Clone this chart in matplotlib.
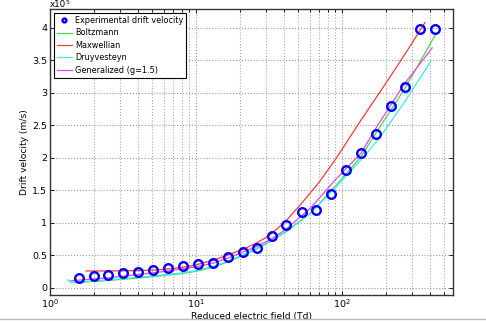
import matplotlib
matplotlib.use("Agg")
import matplotlib.pyplot as plt
from matplotlib.ticker import FuncFormatter, LogLocator, NullFormatter, MultipleLocator
from matplotlib.lines import Line2D

# Experimental data (x in Td, y in 1e5 m/s)
exp_x = [1.58, 2.0, 2.5, 3.16, 4.0, 5.07, 6.43, 8.15, 10.3, 13.1, 16.6, 21.0, 26.2,
         33.2, 41.3, 53.2, 66.4, 84.1, 106, 135, 171, 217, 270, 342, 433]
exp_y = [0.15, 0.175, 0.198, 0.223, 0.25, 0.277, 0.31, 0.33, 0.36, 0.39, 0.467, 0.55,
         0.62, 0.80, 0.965, 1.16, 1.20, 1.45, 1.82, 2.07, 2.36, 2.795, 3.09, 3.99, 3.99]

# Model curves
maxw_x = [1.77, 2.6, 3.9, 5.3, 7.1, 8.9, 10.6, 12.9, 16.3, 20.6, 26.0, 31.0, 36.0, 41.3,
          52.0, 70.0, 89.8, 135, 207, 280, 370]
maxw_y = [0.26, 0.26, 0.265, 0.275, 0.30, 0.33, 0.37, 0.42, 0.50, 0.585, 0.69, 0.79, 0.91,
          1.03, 1.28, 1.63, 1.97, 2.58, 3.20, 3.65, 4.08]

boltz_x = [1.33, 1.40, 1.6, 2.4, 3.5, 5.5, 8.0, 10.3, 13.1, 16.6, 21.0, 26.2, 33.2,
           41.3, 61.0, 89.8, 135, 180, 270, 433]
boltz_y = [0.12, 0.08, 0.085, 0.11, 0.14, 0.18, 0.22, 0.26, 0.32, 0.40, 0.50, 0.60,
           0.73, 0.86, 1.15, 1.56, 2.02, 2.46, 3.07, 3.88]

druy_x = [1.33, 1.40, 1.6, 2.4, 3.5, 5.5, 8.0, 10.3, 13.1, 16.6, 21.0, 26.2, 33.2,
          41.3, 61.0, 89.8, 135, 180, 270, 405]
druy_y = [0.12, 0.085, 0.09, 0.12, 0.15, 0.19, 0.23, 0.27, 0.33, 0.41, 0.51, 0.61,
          0.74, 0.87, 1.15, 1.54, 1.97, 2.30, 2.87, 3.48]

gen_x = [1.40, 1.6, 2.4, 3.5, 5.5, 8.0, 10.3, 13.1, 16.6, 21.0, 26.2, 33.2, 41.3,
         61.0, 89.8, 135, 171, 270, 415]
gen_y = [0.11, 0.12, 0.15, 0.19, 0.24, 0.29, 0.33, 0.38, 0.46, 0.55, 0.64, 0.76, 0.90,
         1.23, 1.66, 2.07, 2.46, 3.15, 3.69]

xlim = (1, 576)
ylim = (-0.11, 4.29)

plt.rcParams['font.family'] = ['DejaVu Sans']
fig = plt.figure(figsize=(4.86, 3.23), dpi=100)
ax = fig.add_axes([50/486, 1-295/323, (453-50)/486, (295-9)/323])

lw = 0.9
ax.plot(boltz_x, boltz_y, color='#44dd44', lw=lw, label='Boltzmann', zorder=3)
ax.plot(maxw_x, maxw_y, color='#ff3a3a', lw=lw, label='Maxwellian', zorder=3)
ax.plot(druy_x, druy_y, color='#33eeff', lw=lw, label='Druyvesteyn', zorder=3)
ax.plot(gen_x, gen_y, color='#ee44ee', lw=lw, label='Generalized (g=1.5)', zorder=3)
hexp, = ax.plot(exp_x, exp_y, linestyle='none', marker='o', markersize=6.2,
                markerfacecolor='none', markeredgecolor='#0000ff', markeredgewidth=1.7,
                label='Experimental drift velocity', zorder=5)

ax.set_xscale('log')
ax.set_xlim(*xlim)
ax.set_ylim(*ylim)
ax.yaxis.set_major_locator(MultipleLocator(0.5))
ax.yaxis.set_major_formatter(FuncFormatter(lambda v, p: '%g' % round(v, 2)))
ax.xaxis.set_major_locator(LogLocator(base=10, numticks=10))
ax.xaxis.set_minor_locator(LogLocator(base=10, subs=range(2, 10), numticks=20))
ax.xaxis.set_minor_formatter(NullFormatter())

ax.grid(True, which='major', color='#999999', linestyle=':', linewidth=0.8)
ax.grid(True, which='minor', axis='x', color='#aaaaaa', linestyle=':', linewidth=0.8)
ax.tick_params(which='both', direction='in', top=True, right=True, labelsize=6.8, width=0.6)
ax.tick_params(axis='x', pad=2)
ax.tick_params(axis='y', pad=2)
ax.tick_params(which='major', length=3)
ax.tick_params(which='minor', length=2)
for s in ax.spines.values():
    s.set_linewidth(1.0)
    s.set_color('#333333')

ax.set_xlabel('Reduced electric field (Td)', fontsize=6.6, labelpad=1)
ax.set_ylabel('Drift velocity (m/s)', fontsize=6.6, labelpad=2)
fig.text(50/486, 1-9/323, 'x10', fontsize=6.3, ha='left', va='bottom')
fig.text(65.5/486, 1-5/323, '5', fontsize=4.3, ha='left', va='bottom')

handles = [hexp] + ax.get_lines()[:4]
leg = ax.legend(handles=handles, loc='upper left', fontsize=5.9, frameon=True,
                fancybox=False, edgecolor='black', framealpha=1, markerscale=0.45,
                handlelength=1.8, handletextpad=0.4, borderpad=0.35, labelspacing=0.42,
                borderaxespad=0.5)
leg.get_frame().set_linewidth(0.8)

fig.add_artist(Line2D([0, 1], [1-319/323, 1-319/323], color='#bbbbbb', lw=1.0,
                      transform=fig.transFigure))

fig.savefig('out.png', dpi=100)
